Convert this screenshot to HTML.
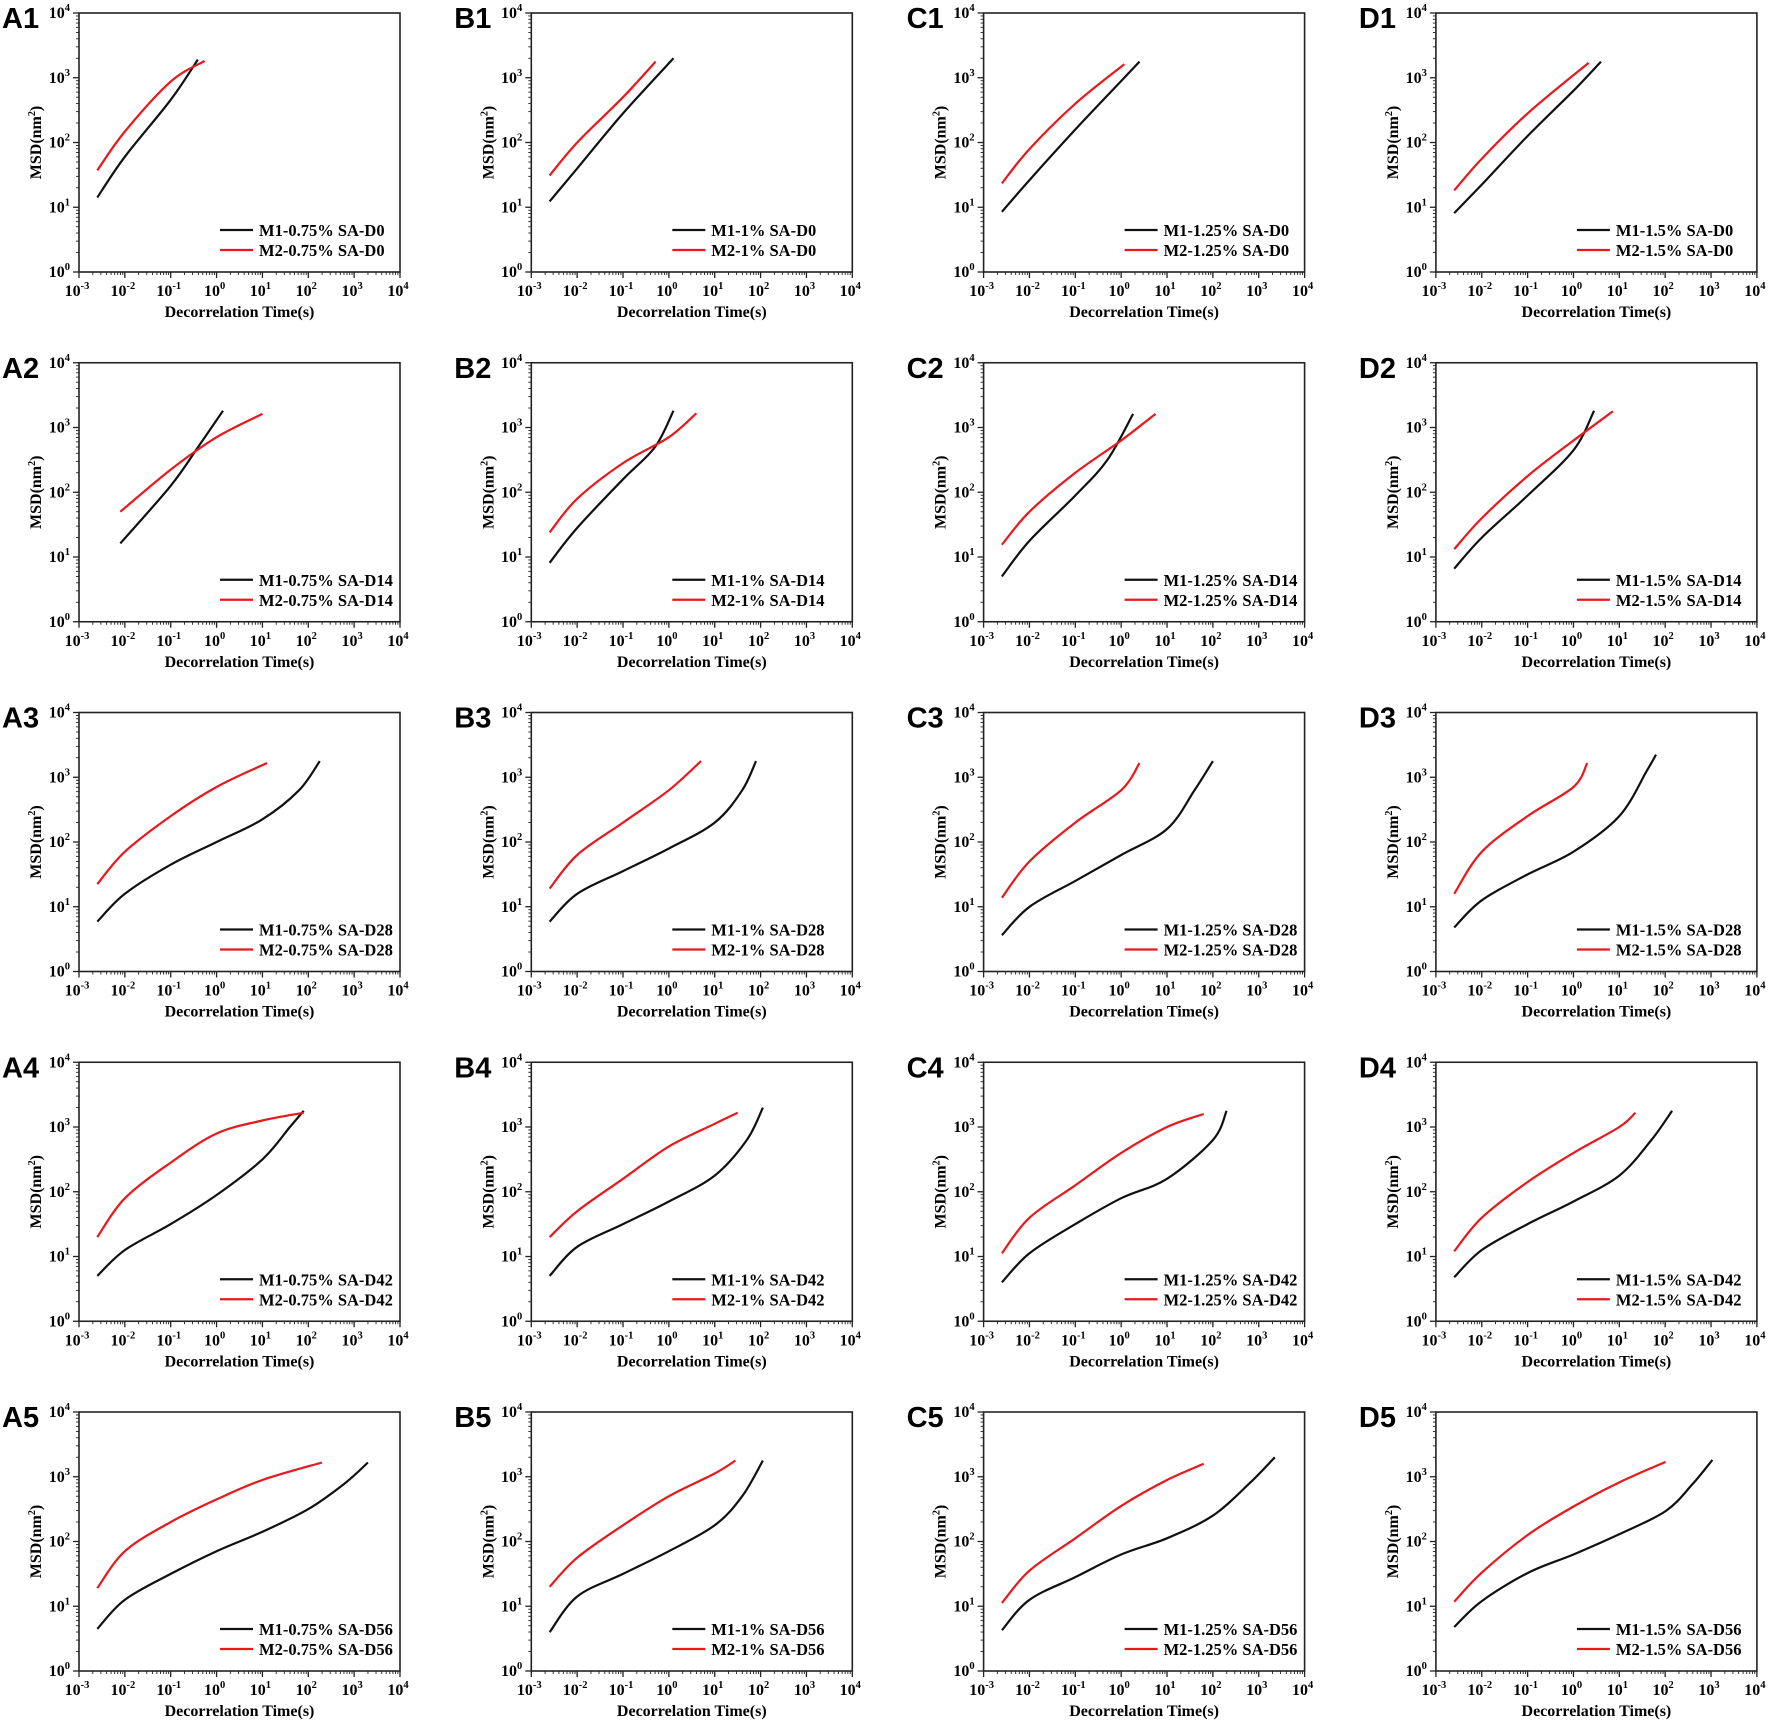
<!DOCTYPE html>
<html><head><meta charset="utf-8">
<style>
html,body{margin:0;padding:0;background:#fff;}
svg{display:block;}
</style></head>
<body>
<svg id="s" width="1772" height="1724" xmlns="http://www.w3.org/2000/svg" font-family="'Liberation Serif',serif"></svg>
<script>
const S=document.getElementById('s');
let out='';
const cols=['A','B','C','D'];
const pct=['0.75%','1%','1.25%','1.5%'];
const days=['D0','D14','D28','D42','D56'];
const X0=-2.6;
const D=[
[
 [[[X0,1.15],[-2,1.78],[-1,2.66],[-0.41,3.28]],[[X0,1.57],[-2,2.17],[-1,2.94],[-0.26,3.26]]],
 [[[X0,1.09],[-2,1.6],[-1,2.45],[0.1,3.3]],[[X0,1.49],[-2,2.0],[-1,2.7],[-0.29,3.25]]],
 [[[X0,0.93],[-2,1.42],[-1,2.2],[0,2.95],[0.4,3.25]],[[X0,1.37],[-2,1.9],[-1,2.6],[0.07,3.21]]],
 [[[X0,0.91],[-2,1.35],[-1,2.1],[0,2.8],[0.6,3.25]],[[X0,1.26],[-2,1.75],[-1,2.45],[0.33,3.23]]]
],
[
 [[[-2.1,1.21],[-1,2.1],[-0.4,2.7],[0.14,3.26]],[[-2.1,1.7],[-1,2.35],[0,2.85],[1.0,3.21]]],
 [[[X0,0.91],[-2,1.45],[-1,2.2],[-0.3,2.7],[0.1,3.26]],[[X0,1.38],[-2,1.9],[-1,2.45],[0,2.85],[0.6,3.22]]],
 [[[X0,0.7],[-2,1.25],[-1,1.95],[-0.3,2.5],[0.26,3.21]],[[X0,1.19],[-2,1.7],[-1,2.3],[0,2.8],[0.75,3.21]]],
 [[[X0,0.82],[-2,1.3],[-1,1.95],[0,2.65],[0.45,3.26]],[[X0,1.12],[-2,1.6],[-1,2.25],[0,2.8],[0.86,3.25]]]
],
[
 [[[X0,0.77],[-2,1.2],[-1,1.65],[0,2],[1,2.35],[1.8,2.8],[2.25,3.25]],[[X0,1.35],[-2,1.85],[-1,2.4],[0,2.85],[1.1,3.22]]],
 [[[X0,0.77],[-2,1.2],[-1,1.55],[0,1.9],[1,2.3],[1.6,2.8],[1.9,3.25]],[[X0,1.28],[-2,1.8],[-1,2.3],[0,2.8],[0.7,3.25]]],
 [[[X0,0.56],[-2,1.0],[-1,1.4],[0,1.8],[1,2.2],[1.6,2.8],[2.0,3.25]],[[X0,1.14],[-2,1.7],[-1,2.3],[0,2.8],[0.4,3.22]]],
 [[[X0,0.68],[-2,1.1],[-1,1.5],[0,1.85],[1,2.4],[1.6,3.1],[1.8,3.35]],[[X0,1.2],[-2,1.85],[-1,2.4],[0,2.85],[0.3,3.22]]]
],
[
 [[[X0,0.7],[-2,1.1],[-1,1.5],[0,1.95],[1,2.5],[1.6,3.0],[1.9,3.25]],[[X0,1.3],[-2,1.9],[-1,2.45],[0,2.9],[1,3.1],[1.9,3.22]]],
 [[[X0,0.7],[-2,1.15],[-1,1.5],[0,1.85],[1,2.25],[1.7,2.8],[2.05,3.3]],[[X0,1.3],[-2,1.7],[-1,2.2],[0,2.7],[1,3.05],[1.5,3.22]]],
 [[[X0,0.6],[-2,1.05],[-1,1.5],[0,1.9],[1,2.2],[2,2.8],[2.3,3.25]],[[X0,1.05],[-2,1.6],[-1,2.1],[0,2.6],[1,3.0],[1.8,3.2]]],
 [[[X0,0.68],[-2,1.1],[-1,1.5],[0,1.85],[1,2.25],[1.7,2.8],[2.15,3.25]],[[X0,1.08],[-2,1.6],[-1,2.15],[0,2.6],[1,3.0],[1.35,3.22]]]
],
[
 [[[X0,0.65],[-2,1.1],[-1,1.5],[0,1.85],[1,2.15],[2,2.5],[2.8,2.9],[3.3,3.22]],[[X0,1.28],[-2,1.85],[-1,2.3],[0,2.65],[1,2.95],[2.3,3.22]]],
 [[[X0,0.6],[-2,1.15],[-1,1.5],[0,1.85],[1,2.25],[1.6,2.7],[2.05,3.25]],[[X0,1.3],[-2,1.75],[-1,2.25],[0,2.7],[1,3.05],[1.45,3.25]]],
 [[[X0,0.63],[-2,1.1],[-1,1.45],[0,1.8],[1,2.05],[2,2.4],[2.8,2.9],[3.35,3.3]],[[X0,1.05],[-2,1.55],[-1,2.05],[0,2.55],[1,2.95],[1.8,3.2]]],
 [[[X0,0.68],[-2,1.08],[-0.98,1.52],[0,1.8],[0.99,2.11],[2.01,2.47],[2.6,2.89],[3.03,3.26]],[[X0,1.07],[-2,1.52],[-0.98,2.11],[0,2.54],[0.99,2.91],[2.01,3.23]]]
]];
function path(pts){
  let d='M'+pts[0][0].toFixed(1)+' '+pts[0][1].toFixed(1);
  for(let i=0;i<pts.length-1;i++){
    const p0=pts[Math.max(0,i-1)],p1=pts[i],p2=pts[i+1],p3=pts[Math.min(pts.length-1,i+2)];
    const c1=[p1[0]+(p2[0]-p0[0])/6,p1[1]+(p2[1]-p0[1])/6];
    const c2=[p2[0]-(p3[0]-p1[0])/6,p2[1]-(p3[1]-p1[1])/6];
    d+=` C${c1[0].toFixed(1)} ${c1[1].toFixed(1)} ${c2[0].toFixed(1)} ${c2[1].toFixed(1)} ${p2[0].toFixed(1)} ${p2[1].toFixed(1)}`;
  }
  return d;
}
const W=321,H=259;
for(let r=0;r<5;r++)for(let c=0;c<4;c++){
  const L=79+452.3*c, T=13+349.75*r, R=L+W, B=T+H;
  const dx=W/7, dy=H/4;
  const px=v=>L+(v+3)*dx, py=v=>B-v*dy;
  out+=`<text x="${L-77}" y="${T+15}" font-family="'Liberation Sans',sans-serif" font-weight="bold" font-size="29">${cols[c]}${r+1}</text>`;
  out+=`<rect x="${L}" y="${T}" width="${W}" height="${H}" fill="none" stroke="#222" stroke-width="1.6"/>`;
  for(let k=-3;k<=4;k++){
    const x=px(k);
    out+=`<line x1="${x}" y1="${B}" x2="${x}" y2="${B+6}" stroke="#222" stroke-width="1.3"/>`;
    if(k<4)for(let m=2;m<10;m++){const xm=px(k+Math.log10(m));out+=`<line x1="${xm}" y1="${B}" x2="${xm}" y2="${B+3}" stroke="#222" stroke-width="0.9"/>`;}
    out+=`<text x="${x-2}" y="${B+24}" text-anchor="middle" font-size="16" font-weight="bold">10<tspan font-size="10.5" dy="-7">${k}</tspan></text>`;
  }
  for(let k=0;k<=4;k++){
    const y=py(k);
    out+=`<line x1="${L-6}" y1="${y}" x2="${L}" y2="${y}" stroke="#222" stroke-width="1.3"/>`;
    if(k<4)for(let m=2;m<10;m++){const ym=py(k+Math.log10(m));out+=`<line x1="${L-3}" y1="${ym}" x2="${L}" y2="${ym}" stroke="#222" stroke-width="0.9"/>`;}
    out+=`<text x="${L-9}" y="${y+5}" text-anchor="end" font-size="16" font-weight="bold">10<tspan font-size="10.5" dy="-7">${k}</tspan></text>`;
  }
  out+=`<text x="${(L+R)/2}" y="${B+45}" text-anchor="middle" font-size="16" font-weight="bold">Decorrelation Time(s)</text>`;
  out+=`<text transform="translate(${L-38},${(T+B)/2}) rotate(-90)" text-anchor="middle" font-size="16" font-weight="bold">MSD(nm<tspan font-size="10" dy="-6">2</tspan><tspan dy="6">)</tspan></text>`;
  const d=D[r][c];
  const cols2=['#111','#e8181c'];
  for(let s=0;s<2;s++){
    const pts=d[s].map(p=>[px(p[0]),py(p[1])]);
    out+=`<path d="${path(pts)}" fill="none" stroke="${cols2[s]}" stroke-width="2.2"/>`;
  }
  for(let s=0;s<2;s++){
    const y=T+217+s*20;
    out+=`<line x1="${L+141}" y1="${y}" x2="${L+174}" y2="${y}" stroke="${cols2[s]}" stroke-width="2.2"/>`;
    out+=`<text x="${L+180}" y="${y+6}" font-size="16.5" font-weight="bold">M${s+1}-${pct[c]} SA-${days[r]}</text>`;
  }
}
S.innerHTML=out;
</script>
</body></html>
